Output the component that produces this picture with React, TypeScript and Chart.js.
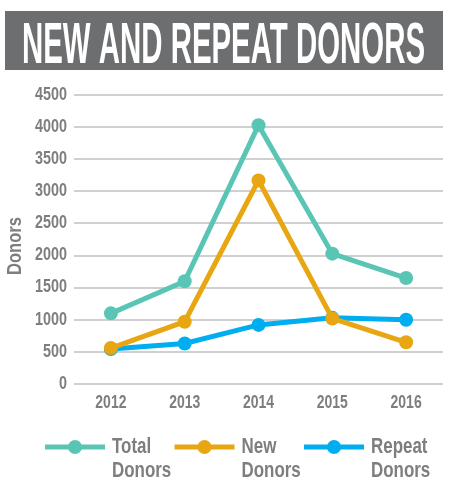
import React, { useEffect, useRef } from 'react';
import { Chart, registerables } from 'chart.js';

Chart.register(...registerables);

const titleText = 'NEW AND REPEAT DONORS';
const categories = ['2012', '2013', '2014', '2015', '2016'];
const totalDonors = [1100, 1600, 4030, 2030, 1650];
const newDonors = [560, 970, 3170, 1020, 650];
const repeatDonors = [545, 630, 920, 1030, 1000];
const seriesLabels = [['Total', 'Donors'], ['New', 'Donors'], ['Repeat', 'Donors']];
const yAxisTitle = 'Donors';
const yMax = 4500;
const yStep = 500;

const FONT = '"Liberation Sans", Arial, sans-serif';
const GRAY = '#7d7e80';
const COLORS = ['#5bc5b5', '#e8a612', '#00aeef'];

// draw horizontally condensed text (the reference uses a condensed face)
function condText(ctx: CanvasRenderingContext2D, text: string, x: number, y: number, font: string, sx: number, align: CanvasTextAlign, color: string, rot = 0) {
  ctx.save();
  ctx.translate(x, y);
  if (rot) ctx.rotate(rot);
  ctx.scale(sx, 1);
  ctx.font = font;
  ctx.fillStyle = color;
  ctx.textAlign = align;
  ctx.textBaseline = 'middle';
  ctx.fillText(text, 0, 0);
  ctx.restore();
}

const titlePlugin = {
  id: 'boxTitle',
  beforeDraw(chart: any) {
    const ctx = chart.ctx;
    ctx.save();
    ctx.fillStyle = '#6d6e70';
    ctx.fillRect(5, 11, 438, 59);
    ctx.font = `bold 58px ${FONT}`;
    ctx.fillStyle = '#ffffff';
    ctx.textBaseline = 'alphabetic';
    ctx.textAlign = 'left';
    const w = ctx.measureText(titleText).width;
    ctx.translate(22, 63);
    ctx.scale(403 / w, 1);
    ctx.fillText(titleText, 0, 0);
    ctx.restore();
  },
};

const axisTextPlugin = {
  id: 'axisText',
  afterDraw(chart: any) {
    const ctx = chart.ctx;
    const tickFont = `bold 17.5px ${FONT}`;
    const ys = chart.scales.y;
    ys.ticks.forEach((t: any, i: number) => {
      condText(ctx, String(t.value), ys.right - 7, ys.getPixelForTick(i), tickFont, 0.82, 'right', GRAY);
    });
    const xs = chart.scales.x;
    xs.ticks.forEach((t: any, i: number) => {
      condText(ctx, String(chart.data.labels[i]), xs.getPixelForTick(i), 403, tickFont, 0.8, 'center', GRAY);
    });
    condText(ctx, yAxisTitle, 15, 246, `bold 21px ${FONT}`, 0.79, 'center', GRAY, -Math.PI / 2);
  },
};

const legendPlugin = {
  id: 'multiLegend',
  afterDraw(chart: any) {
    const ctx = chart.ctx;
    chart.data.datasets.forEach((ds: any, i: number) => {
      const x0 = 45 + i * 129.5;
      const y = 447;
      ctx.save();
      ctx.strokeStyle = ds.borderColor;
      ctx.lineWidth = 5;
      ctx.beginPath();
      ctx.moveTo(x0, y);
      ctx.lineTo(x0 + 60, y);
      ctx.stroke();
      ctx.fillStyle = ds.borderColor;
      ctx.beginPath();
      ctx.arc(x0 + 30, y, 7, 0, Math.PI * 2);
      ctx.fill();
      ctx.restore();
      const lines: string[] = ds.label;
      lines.forEach((t, j) => condText(ctx, t, x0 + 67, y + j * 24, `bold 22px ${FONT}`, 0.77, 'left', GRAY));
    });
  },
};

export default function App() {
  const ref = useRef<HTMLCanvasElement>(null);
  useEffect(() => {
    if (!ref.current) return;
    const mk = (label: string[], data: number[], color: string) => ({
      label: label as any,
      data,
      borderColor: color,
      backgroundColor: color,
      pointBackgroundColor: color,
      pointBorderWidth: 0,
      pointRadius: 7,
      borderWidth: 5,
      tension: 0,
    });
    const chart = new Chart(ref.current, {
      type: 'line',
      data: {
        labels: categories,
        datasets: [
          mk(seriesLabels[0], totalDonors, COLORS[0]),
          mk(seriesLabels[1], newDonors, COLORS[1]),
          mk(seriesLabels[2], repeatDonors, COLORS[2]),
        ],
      },
      options: {
        responsive: false,
        animation: false,
        layout: { padding: { top: 95, right: 11, bottom: 60, left: 0 } },
        plugins: { legend: { display: false }, tooltip: { enabled: false }, title: { display: false } },
        scales: {
          x: {
            offset: true,
            grid: { display: false },
            border: { display: false },
            ticks: { display: false },
            afterFit: (s: any) => { s.height = 41; },
          },
          y: {
            min: 0,
            max: yMax,
            ticks: { stepSize: yStep, display: false },
            grid: { color: '#d0d0d0', lineWidth: 2, drawTicks: false },
            border: { display: false },
            afterFit: (s: any) => { s.width = 74; },
          },
        },
      },
      plugins: [titlePlugin, axisTextPlugin, legendPlugin],
    });
    return () => chart.destroy();
  }, []);
  return (
    <div style={{ position: 'absolute', left: 0, top: 0, width: 454, height: 485, background: '#fff' }}>
      <canvas ref={ref} width={454} height={485} />
    </div>
  );
}
